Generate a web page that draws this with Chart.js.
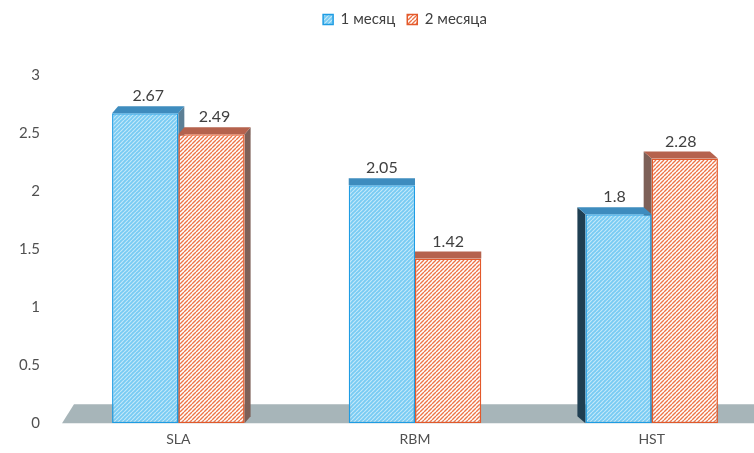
<!DOCTYPE html>
<html>
<head>
<meta charset="utf-8">
<script src="https://cdn.jsdelivr.net/npm/chart.js@4/dist/chart.umd.min.js"></script>
<style>
  html, body { margin: 0; padding: 0; background: #fff; overflow: hidden; }
  #wrap { width: 770px; height: 456px; }
</style>
</head>
<body>
<div id="wrap"><canvas id="chart" width="770" height="456"></canvas></div>
<script>
const categories = ['SLA', 'RBM', 'HST'];
const month1 = [2.67, 2.05, 1.8];
const month2 = [2.49, 1.42, 2.28];
const seriesNames = ['1 месяц', '2 месяца'];
const yTicks = [0, 0.5, 1, 1.5, 2, 2.5, 3];

// depth of the fake 3d boxes, per category (perspective leans toward the middle)
const depthX = [6, 0, -8];
const depthY = -7;
const FONT = 'Lato, "Liberation Sans", sans-serif';

function hatch(bg, line, size, width) {
  const c = document.createElement('canvas');
  c.width = c.height = size;
  const g = c.getContext('2d');
  g.fillStyle = bg;
  g.fillRect(0, 0, size, size);
  g.strokeStyle = line;
  g.lineWidth = width;
  g.beginPath();
  for (let k = -1; k <= 1; k++) {
    g.moveTo(k * size, size);
    g.lineTo(k * size + size, 0);
  }
  g.stroke();
  return g.createPattern(c, 'repeat');
}

const bluePattern = hatch('#78cbf3', 'rgba(255,255,255,0.55)', 4, 1.2);
const orangePattern = hatch('#ffffff', '#ec7448', 4, 1.4);

const faces = [
  { top: '#3e8cbe', side: '#1f3f52' },
  { top: '#b5624d', side: '#7d6058' },
];

const floorPlugin = {
  id: 'floor',
  beforeDatasetsDraw(chart) {
    const { ctx, chartArea } = chart;
    const y0 = chart.scales.y.getPixelForValue(0);
    ctx.save();
    ctx.fillStyle = '#a7b5b9';
    ctx.beginPath();
    ctx.moveTo(chartArea.left + 2, y0);
    ctx.lineTo(chartArea.left + 14, y0 - 19);
    ctx.lineTo(chartArea.right + 20, y0 - 19);
    ctx.lineTo(chartArea.right + 20, y0);
    ctx.closePath();
    ctx.fill();
    // side faces go behind the bars
    chart.data.datasets.forEach((ds, di) => {
      chart.getDatasetMeta(di).data.forEach((bar, i) => {
        const dx = depthX[i];
        if (!dx) return;
        const edge = dx > 0 ? bar.x + bar.width / 2 : bar.x - bar.width / 2;
        ctx.fillStyle = di === 0 && dx > 0 ? '#5c7f95' : faces[di].side;
        ctx.beginPath();
        ctx.moveTo(edge, bar.y);
        ctx.lineTo(edge + dx, bar.y + depthY);
        ctx.lineTo(edge + dx, bar.base + depthY);
        ctx.lineTo(edge, bar.base);
        ctx.closePath();
        ctx.fill();
      });
    });
    ctx.restore();
  },
  afterDatasetsDraw(chart) {
    const { ctx } = chart;
    ctx.save();
    chart.data.datasets.forEach((ds, di) => {
      chart.getDatasetMeta(di).data.forEach((bar, i) => {
        const dx = depthX[i];
        const l = bar.x - bar.width / 2, r = bar.x + bar.width / 2;
        ctx.fillStyle = faces[di].top;
        ctx.beginPath();
        ctx.moveTo(l, bar.y);
        ctx.lineTo(r, bar.y);
        ctx.lineTo(r + dx, bar.y + depthY);
        ctx.lineTo(l + dx, bar.y + depthY);
        ctx.closePath();
        ctx.fill();
        ctx.fillStyle = '#404040';
        ctx.font = '16px ' + FONT;
        ctx.textAlign = 'center';
        ctx.textBaseline = 'bottom';
        ctx.fillText(String(ds.data[i]), bar.x + dx / 2, bar.y + depthY - 2);
      });
    });
    ctx.restore();
  }
};

// extra room under the legend, and nudge it a bit right
const legendSpacer = {
  id: 'legendSpacer',
  beforeInit(chart) {
    const fit = chart.legend.fit;
    chart.legend.fit = function () {
      fit.bind(chart.legend)();
      this.height += 38;
    };
  },
  afterLayout(chart) {
    chart.legend.left += 20;
    chart.legend.right += 20;
  }
};

new Chart(document.getElementById('chart'), {
  type: 'bar',
  data: {
    labels: categories,
    datasets: [
      { label: seriesNames[0], data: month1, backgroundColor: bluePattern, borderColor: '#1e9ce3', borderWidth: 1.5, borderSkipped: false },
      { label: seriesNames[1], data: month2, backgroundColor: orangePattern, borderColor: '#e3592b', borderWidth: 1.5, borderSkipped: false },
    ],
  },
  options: {
    responsive: false,
    animation: false,
    datasets: { bar: { categoryPercentage: 0.56, barPercentage: 1 } },
    plugins: {
      legend: {
        position: 'top',
        labels: {
          boxWidth: 10, boxHeight: 10, padding: 12,
          color: '#404040',
          font: { family: FONT, size: 15 },
        },
      },
      tooltip: { enabled: false },
    },
    scales: {
      x: {
        grid: { display: false, drawTicks: false },
        border: { display: false },
        ticks: { color: '#505050', padding: 8, font: { family: FONT, size: 14 } },
      },
      y: {
        min: 0, max: 3,
        afterBuildTicks(axis) { axis.ticks = yTicks.map((v) => ({ value: v })); },
        afterFit(axis) { axis.width = 60; },
        grid: { display: false, drawTicks: false },
        border: { display: false },
        ticks: {
          color: '#505050', padding: 20, font: { family: FONT, size: 15 },
          callback: (v) => String(v),
        },
      },
    },
  },
  plugins: [floorPlugin, legendSpacer],
});
</script>
</body>
</html>
